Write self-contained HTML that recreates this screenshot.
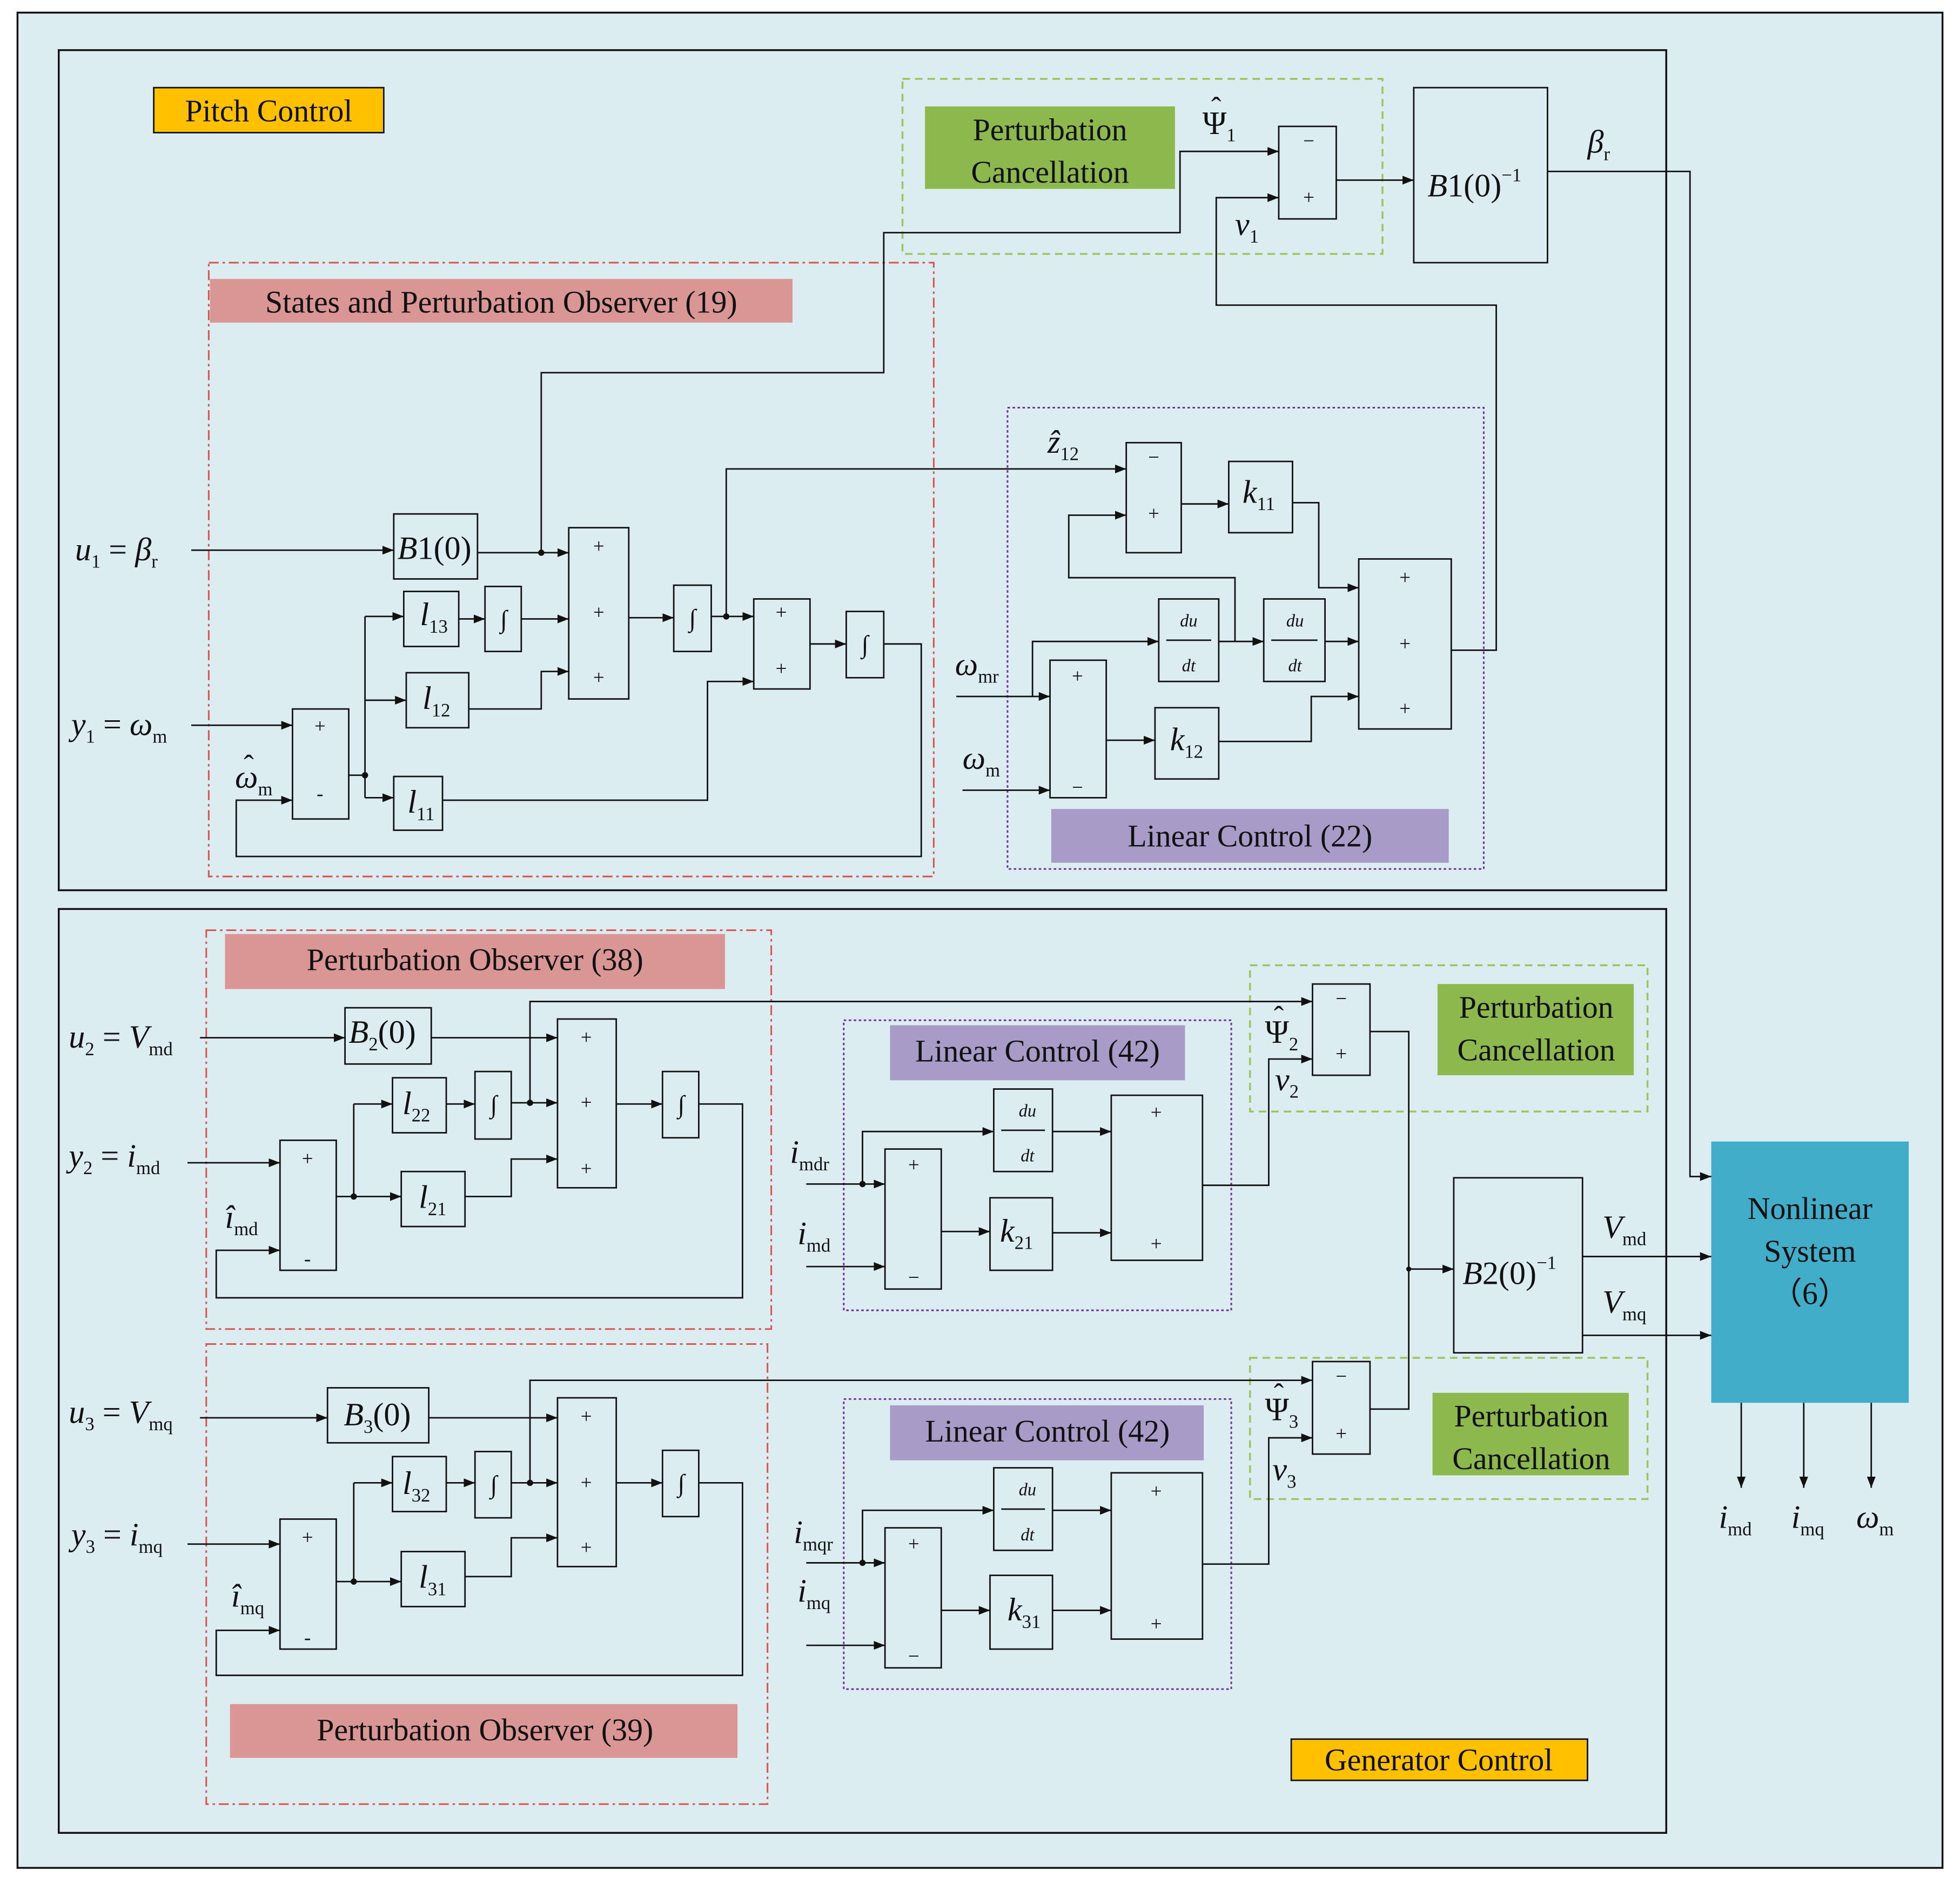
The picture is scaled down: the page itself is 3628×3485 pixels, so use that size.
<!DOCTYPE html>
<html><head><meta charset="utf-8"><style>
html,body{margin:0;padding:0;background:#fff;}
svg{display:block;}
text{font-family:"Liberation Serif",serif;fill:#111;}
.m{font-style:italic;}
</style></head><body>
<svg width="3628" height="3485" viewBox="0 0 1568 1506" xmlns="http://www.w3.org/2000/svg">
<defs>
<marker id="a" markerWidth="10" markerHeight="8" refX="9" refY="4" orient="auto" markerUnits="userSpaceOnUse">
<path d="M0,0.5 L9,4 L0,7.5 Z" fill="#111"/></marker>
</defs>
<rect x="0" y="0" width="1568" height="1506" fill="#fff"/>
<rect x="14" y="10" width="1540" height="1484" fill="#dcedf2" stroke="#111" stroke-width="1.5"/>
<rect x="47" y="40" width="1286" height="672" fill="none" stroke="#111" stroke-width="1.5"/>
<rect x="47" y="727" width="1286" height="739" fill="none" stroke="#111" stroke-width="1.5"/>

<g fill="none" stroke="#111" stroke-width="1.2">
<rect x="1023" y="101" width="46" height="74"/>
<rect x="1131" y="70" width="107" height="140"/>
<rect x="315" y="411" width="67" height="52"/>
<rect x="455" y="422" width="48" height="137"/>
<rect x="234" y="567" width="45" height="88"/>
<rect x="323" y="473" width="44" height="44"/>
<rect x="325" y="538" width="50" height="44"/>
<rect x="315" y="621" width="39" height="43"/>
<rect x="388" y="469" width="29" height="52"/>
<rect x="539" y="468" width="30" height="53"/>
<rect x="603" y="479" width="45" height="72"/>
<rect x="677" y="489" width="30" height="53"/>
<rect x="901" y="354" width="44" height="88"/>
<rect x="983" y="369" width="51" height="57"/>
<rect x="1087" y="447" width="74" height="136"/>
<rect x="840" y="528" width="45" height="110"/>
<rect x="927" y="479" width="48" height="66"/>
<rect x="1011" y="479" width="49" height="66"/>
<rect x="924" y="566" width="51" height="57"/>
<rect x="276" y="806" width="69" height="45"/>
<rect x="446" y="815" width="47" height="135"/>
<rect x="224" y="912" width="45" height="104"/>
<rect x="314" y="862" width="43" height="44"/>
<rect x="321" y="937" width="51" height="44"/>
<rect x="380" y="857" width="29" height="54"/>
<rect x="530" y="857" width="29" height="53"/>
<rect x="708" y="919" width="45" height="112"/>
<rect x="795" y="871" width="47" height="66"/>
<rect x="889" y="876" width="73" height="132"/>
<rect x="792" y="958" width="50" height="58"/>
<rect x="1050" y="787" width="46" height="73"/>
<rect x="1163" y="942" width="103" height="140"/>
<rect x="262" y="1110" width="81" height="44"/>
<rect x="446" y="1118" width="47" height="135"/>
<rect x="224" y="1215" width="45" height="104"/>
<rect x="314" y="1165" width="43" height="44"/>
<rect x="321" y="1241" width="51" height="44"/>
<rect x="380" y="1161" width="29" height="53"/>
<rect x="530" y="1160" width="29" height="53"/>
<rect x="708" y="1222" width="45" height="112"/>
<rect x="795" y="1174" width="47" height="66"/>
<rect x="889" y="1178" width="73" height="133"/>
<rect x="792" y="1260" width="50" height="59"/>
<rect x="1050" y="1089" width="46" height="74"/>
<line x1="933" y1="512" x2="969" y2="512"/><line x1="1017" y1="512" x2="1054" y2="512"/>
<line x1="801" y1="904" x2="836" y2="904"/><line x1="801" y1="1207" x2="836" y2="1207"/>
</g>

<rect x="722" y="63" width="384" height="140" fill="none" stroke="#9bc45a" stroke-width="1.5" stroke-dasharray="6,4"/>
<rect x="1000" y="772" width="318" height="117" fill="none" stroke="#9bc45a" stroke-width="1.5" stroke-dasharray="6,4"/>
<rect x="1000" y="1086" width="318" height="113" fill="none" stroke="#9bc45a" stroke-width="1.5" stroke-dasharray="6,4"/>
<rect x="167" y="210" width="580" height="491" fill="none" stroke="#d9534f" stroke-width="1.3" stroke-dasharray="8,3,2,3"/>
<rect x="165" y="744" width="452" height="319" fill="none" stroke="#d9534f" stroke-width="1.3" stroke-dasharray="8,3,2,3"/>
<rect x="165" y="1075" width="449" height="368" fill="none" stroke="#d9534f" stroke-width="1.3" stroke-dasharray="8,3,2,3"/>
<rect x="806" y="326" width="381" height="369" fill="none" stroke="#7030a0" stroke-width="1.3" stroke-dasharray="2,2"/>
<rect x="675" y="816" width="310" height="232" fill="none" stroke="#7030a0" stroke-width="1.3" stroke-dasharray="2,2"/>
<rect x="675" y="1119" width="310" height="232" fill="none" stroke="#7030a0" stroke-width="1.3" stroke-dasharray="2,2"/>

<rect x="123" y="70" width="184" height="36" fill="#ffc000" stroke="#111" stroke-width="1.2"/>
<rect x="1033" y="1391" width="237" height="33" fill="#ffc000" stroke="#111" stroke-width="1.2"/>
<rect x="740" y="85" width="200" height="66" fill="#8cb84e"/>
<rect x="1150" y="787" width="157" height="73" fill="#8cb84e"/>
<rect x="1146" y="1114" width="157" height="66" fill="#8cb84e"/>
<rect x="168" y="223" width="466" height="35" fill="#d99694"/>
<rect x="180" y="747" width="400" height="44" fill="#d99694"/>
<rect x="184" y="1363" width="406" height="43" fill="#d99694"/>
<rect x="841" y="647" width="318" height="43" fill="#a99bc7"/>
<rect x="712" y="820" width="236" height="44" fill="#a99bc7"/>
<rect x="712" y="1124" width="251" height="44" fill="#a99bc7"/>
<rect x="1369" y="913" width="158" height="209" fill="#42adc9"/>

<g fill="none" stroke="#111" stroke-width="1.2">
<path d="M1069,144 H1131" marker-end="url(#a)"/>
<path d="M1238,137 H1352 V941 H1369" marker-end="url(#a)"/>
<path d="M153,440 H315" marker-end="url(#a)"/>
<path d="M382,442 H455" marker-end="url(#a)"/>
<path d="M433,442 V298 H707 V186 H944 V121 H1023" marker-end="url(#a)"/>
<path d="M1161,520 H1197 V244 H973 V158 H1023" marker-end="url(#a)"/>
<path d="M153,580 H234" marker-end="url(#a)"/>
<path d="M279,620 H292"/>
<path d="M292,493 V638"/>
<path d="M292,493 H323" marker-end="url(#a)"/>
<path d="M292,560 H325" marker-end="url(#a)"/>
<path d="M292,638 H315" marker-end="url(#a)"/>
<path d="M367,495 H388" marker-end="url(#a)"/>
<path d="M417,495 H455" marker-end="url(#a)"/>
<path d="M375,567 H433 V537 H455" marker-end="url(#a)"/>
<path d="M503,494 H539" marker-end="url(#a)"/>
<path d="M569,493 H603" marker-end="url(#a)"/>
<path d="M581,493 V375 H901" marker-end="url(#a)"/>
<path d="M354,640 H566 V545 H603" marker-end="url(#a)"/>
<path d="M648,515 H677" marker-end="url(#a)"/>
<path d="M707,515 H737 V685 H189 V640 H234" marker-end="url(#a)"/>
<path d="M988,513 V462 H855 V412 H901" marker-end="url(#a)"/>
<path d="M945,403 H983" marker-end="url(#a)"/>
<path d="M1034,402 H1055 V470 H1087" marker-end="url(#a)"/>
<path d="M765,557 H840" marker-end="url(#a)"/>
<path d="M770,632 H840" marker-end="url(#a)"/>
<path d="M826,557 V513 H927" marker-end="url(#a)"/>
<path d="M975,513 H1011" marker-end="url(#a)"/>
<path d="M1060,513 H1087" marker-end="url(#a)"/>
<path d="M885,592 H924" marker-end="url(#a)"/>
<path d="M975,593 H1049 V557 H1087" marker-end="url(#a)"/>
<path d="M160,830 H276" marker-end="url(#a)"/>
<path d="M345,830 H446" marker-end="url(#a)"/>
<path d="M150,930 H224" marker-end="url(#a)"/>
<path d="M269,957 H321" marker-end="url(#a)"/>
<path d="M283,883 V957"/>
<path d="M283,883 H314" marker-end="url(#a)"/>
<path d="M357,883 H380" marker-end="url(#a)"/>
<path d="M409,882 H446" marker-end="url(#a)"/>
<path d="M424,882 V801 H1050" marker-end="url(#a)"/>
<path d="M372,957 H409 V927 H446" marker-end="url(#a)"/>
<path d="M493,883 H530" marker-end="url(#a)"/>
<path d="M559,883 H594 V1038 H173 V1000 H224" marker-end="url(#a)"/>
<path d="M645,947 H708" marker-end="url(#a)"/>
<path d="M690,947 V905 H795" marker-end="url(#a)"/>
<path d="M842,905 H889" marker-end="url(#a)"/>
<path d="M645,1013 H708" marker-end="url(#a)"/>
<path d="M753,985 H792" marker-end="url(#a)"/>
<path d="M842,986 H889" marker-end="url(#a)"/>
<path d="M962,948 H1015 V847 H1050" marker-end="url(#a)"/>
<path d="M1096,825 H1127 V1127 H1096"/>
<path d="M1127,1015 H1163" marker-end="url(#a)"/>
<path d="M1266,1005 H1369" marker-end="url(#a)"/>
<path d="M1266,1068 H1369" marker-end="url(#a)"/>
<path d="M1393,1122 V1190" marker-end="url(#a)"/>
<path d="M1443,1122 V1190" marker-end="url(#a)"/>
<path d="M1497,1122 V1190" marker-end="url(#a)"/>
<path d="M160,1134 H262" marker-end="url(#a)"/>
<path d="M343,1134 H446" marker-end="url(#a)"/>
<path d="M150,1235 H224" marker-end="url(#a)"/>
<path d="M269,1265 H321" marker-end="url(#a)"/>
<path d="M283,1186 V1265"/>
<path d="M283,1186 H314" marker-end="url(#a)"/>
<path d="M357,1186 H380" marker-end="url(#a)"/>
<path d="M409,1186 H446" marker-end="url(#a)"/>
<path d="M424,1186 V1104 H1050" marker-end="url(#a)"/>
<path d="M372,1261 H409 V1230 H446" marker-end="url(#a)"/>
<path d="M493,1186 H530" marker-end="url(#a)"/>
<path d="M559,1186 H594 V1340 H173 V1304 H224" marker-end="url(#a)"/>
<path d="M645,1250 H708" marker-end="url(#a)"/>
<path d="M690,1250 V1208 H795" marker-end="url(#a)"/>
<path d="M842,1208 H889" marker-end="url(#a)"/>
<path d="M645,1316 H708" marker-end="url(#a)"/>
<path d="M753,1288 H792" marker-end="url(#a)"/>
<path d="M842,1288 H889" marker-end="url(#a)"/>
<path d="M962,1251 H1015 V1150 H1050" marker-end="url(#a)"/>
</g>
<g fill="#111">
<circle cx="433" cy="442" r="2.5"/><circle cx="292" cy="620" r="2.5"/><circle cx="581" cy="493" r="2.5"/>
<circle cx="283" cy="957" r="2.5"/><circle cx="424" cy="882" r="2.5"/><circle cx="690" cy="947" r="2.5"/>
<circle cx="283" cy="1265" r="2.5"/><circle cx="424" cy="1186" r="2.5"/><circle cx="690" cy="1250" r="2.5"/>
<circle cx="1127" cy="1015" r="2"/>
</g>

<g font-size="16" text-anchor="middle">
<text x="1047" y="118">−</text><text x="1047" y="163">+</text>
<text x="479" y="442">+</text><text x="479" y="495">+</text><text x="479" y="547">+</text>
<text x="256" y="586">+</text><text x="256" y="640">-</text>
<text x="625" y="495">+</text><text x="625" y="540">+</text>
<text x="923" y="371">−</text><text x="923" y="416">+</text>
<text x="1124" y="467">+</text><text x="1124" y="520">+</text><text x="1124" y="572">+</text>
<text x="862" y="546">+</text><text x="862" y="635">−</text>
<text x="469" y="835">+</text><text x="469" y="887">+</text><text x="469" y="940">+</text>
<text x="246" y="932">+</text><text x="246" y="1012">-</text>
<text x="731" y="937">+</text><text x="731" y="1027">−</text>
<text x="925" y="895">+</text><text x="925" y="1000">+</text>
<text x="1073" y="804">−</text><text x="1073" y="848">+</text>
<text x="469" y="1138">+</text><text x="469" y="1191">+</text><text x="469" y="1243">+</text>
<text x="246" y="1235">+</text><text x="246" y="1315">-</text>
<text x="731" y="1240">+</text><text x="731" y="1330">−</text>
<text x="925" y="1198">+</text><text x="925" y="1304">+</text>
<text x="1073" y="1106">−</text><text x="1073" y="1152">+</text>
</g>
<g font-size="20" text-anchor="middle">
<text x="403" y="502">∫</text><text x="554" y="501">∫</text><text x="692" y="522">∫</text>
<text x="395" y="890">∫</text><text x="545" y="890">∫</text>
<text x="395" y="1194">∫</text><text x="545" y="1193">∫</text>
</g>
<g font-size="14" text-anchor="middle" font-style="italic">
<text x="951" y="501">du</text><text x="951" y="537">dt</text>
<text x="1036" y="501">du</text><text x="1036" y="537">dt</text>
<text x="822" y="893">du</text><text x="822" y="929">dt</text>
<text x="822" y="1196">du</text><text x="822" y="1232">dt</text>
</g>

<g font-size="25" text-anchor="middle">
<text x="215" y="97">Pitch Control</text>
<text x="1151" y="1416">Generator  Control</text>
<text x="840" y="112">Perturbation</text><text x="840" y="146">Cancellation</text>
<text x="1229" y="814">Perturbation</text><text x="1229" y="848">Cancellation</text>
<text x="1225" y="1141">Perturbation</text><text x="1225" y="1175">Cancellation</text>
<text x="401" y="250">States and Perturbation Observer  (19)</text>
<text x="380" y="776">Perturbation Observer  (38)</text>
<text x="388" y="1392">Perturbation Observer  (39)</text>
<text x="1000" y="677">Linear Control (22)</text>
<text x="830" y="849">Linear Control (42)</text>
<text x="838" y="1153">Linear Control (42)</text>
<text x="1448" y="975" fill="#1a2a3a">Nonlinear</text>
<text x="1448" y="1009" fill="#1a2a3a">System</text>
<text x="1448" y="1043" fill="#1a2a3a">（6）</text>
</g>

<!-- hats -->
<g font-size="24" text-anchor="middle">
<text x="973" y="94">ˆ</text>
<text x="1023" y="821">ˆ</text>
<text x="1023" y="1123">ˆ</text>
<text x="199" y="620">ˆ</text>
</g>

<g font-size="26">
<text x="1142" y="157"><tspan class="m">B</tspan>1(0)<tspan font-size="15" dy="-12">−1</tspan></text>
<text x="1170" y="1027"><tspan class="m">B</tspan>2(0)<tspan font-size="15" dy="-12">−1</tspan></text>
<text x="318" y="447"><tspan class="m">B</tspan>1(0)</text>
<text x="279" y="834"><tspan class="m">B</tspan><tspan font-size="15" dy="6">2</tspan><tspan dy="-6">(0)</tspan></text>
<text x="275" y="1140"><tspan class="m">B</tspan><tspan font-size="15" dy="6">3</tspan><tspan dy="-6">(0)</tspan></text>
<text x="962" y="107"><tspan>Ψ</tspan><tspan font-size="15" dy="6">1</tspan></text>
<text x="1012" y="834"><tspan>Ψ</tspan><tspan font-size="15" dy="6">2</tspan></text>
<text x="1012" y="1136"><tspan>Ψ</tspan><tspan font-size="15" dy="6">3</tspan></text>
<text x="988" y="188"><tspan class="m">ν</tspan><tspan font-size="15" dy="6">1</tspan></text>
<text x="1020" y="872"><tspan class="m">ν</tspan><tspan font-size="15" dy="6">2</tspan></text>
<text x="1018" y="1184"><tspan class="m">ν</tspan><tspan font-size="15" dy="6">3</tspan></text>
<text x="1270" y="122"><tspan class="m">β</tspan><tspan font-size="15" dy="6">r</tspan></text>
<text x="838" y="362"><tspan class="m">ẑ</tspan><tspan font-size="15" dy="6">12</tspan></text>
<text x="60" y="448"><tspan class="m">u</tspan><tspan font-size="15" dy="6">1</tspan><tspan dy="-6"> = </tspan><tspan class="m">β</tspan><tspan font-size="15" dy="6">r</tspan></text>
<text x="57" y="588"><tspan class="m">y</tspan><tspan font-size="15" dy="6">1</tspan><tspan dy="-6"> = </tspan><tspan class="m">ω</tspan><tspan font-size="15" dy="6">m</tspan></text>
<text x="188" y="630"><tspan class="m">ω</tspan><tspan font-size="15" dy="6">m</tspan></text>
<text x="336" y="500"><tspan class="m">l</tspan><tspan font-size="15" dy="6">13</tspan></text>
<text x="338" y="567"><tspan class="m">l</tspan><tspan font-size="15" dy="6">12</tspan></text>
<text x="326" y="650"><tspan class="m">l</tspan><tspan font-size="15" dy="6">11</tspan></text>
<text x="994" y="402"><tspan class="m">k</tspan><tspan font-size="15" dy="6">11</tspan></text>
<text x="936" y="600"><tspan class="m">k</tspan><tspan font-size="15" dy="6">12</tspan></text>
<text x="764" y="540"><tspan class="m">ω</tspan><tspan font-size="15" dy="6">mr</tspan></text>
<text x="770" y="615"><tspan class="m">ω</tspan><tspan font-size="15" dy="6">m</tspan></text>
<text x="55" y="838"><tspan class="m">u</tspan><tspan font-size="15" dy="6">2</tspan><tspan dy="-6"> = </tspan><tspan class="m">V</tspan><tspan font-size="15" dy="6">md</tspan></text>
<text x="55" y="933"><tspan class="m">y</tspan><tspan font-size="15" dy="6">2</tspan><tspan dy="-6"> = </tspan><tspan class="m">i</tspan><tspan font-size="15" dy="6">md</tspan></text>
<text x="180" y="982"><tspan class="m">î</tspan><tspan font-size="15" dy="6">md</tspan></text>
<text x="322" y="891"><tspan class="m">l</tspan><tspan font-size="15" dy="6">22</tspan></text>
<text x="335" y="966"><tspan class="m">l</tspan><tspan font-size="15" dy="6">21</tspan></text>
<text x="632" y="930"><tspan class="m">i</tspan><tspan font-size="15" dy="6">mdr</tspan></text>
<text x="638" y="995"><tspan class="m">i</tspan><tspan font-size="15" dy="6">md</tspan></text>
<text x="800" y="993"><tspan class="m">k</tspan><tspan font-size="15" dy="6">21</tspan></text>
<text x="1282" y="990"><tspan class="m">V</tspan><tspan font-size="15" dy="6">md</tspan></text>
<text x="1282" y="1050"><tspan class="m">V</tspan><tspan font-size="15" dy="6">mq</tspan></text>
<text x="55" y="1138"><tspan class="m">u</tspan><tspan font-size="15" dy="6">3</tspan><tspan dy="-6"> = </tspan><tspan class="m">V</tspan><tspan font-size="15" dy="6">mq</tspan></text>
<text x="57" y="1236"><tspan class="m">y</tspan><tspan font-size="15" dy="6">3</tspan><tspan dy="-6"> = </tspan><tspan class="m">i</tspan><tspan font-size="15" dy="6">mq</tspan></text>
<text x="185" y="1285"><tspan class="m">î</tspan><tspan font-size="15" dy="6">mq</tspan></text>
<text x="322" y="1195"><tspan class="m">l</tspan><tspan font-size="15" dy="6">32</tspan></text>
<text x="335" y="1270"><tspan class="m">l</tspan><tspan font-size="15" dy="6">31</tspan></text>
<text x="635" y="1234"><tspan class="m">i</tspan><tspan font-size="15" dy="6">mqr</tspan></text>
<text x="638" y="1281"><tspan class="m">i</tspan><tspan font-size="15" dy="6">mq</tspan></text>
<text x="806" y="1296"><tspan class="m">k</tspan><tspan font-size="15" dy="6">31</tspan></text>
<text x="1375" y="1222"><tspan class="m">i</tspan><tspan font-size="15" dy="6">md</tspan></text>
<text x="1433" y="1222"><tspan class="m">i</tspan><tspan font-size="15" dy="6">mq</tspan></text>
<text x="1485" y="1222"><tspan class="m">ω</tspan><tspan font-size="15" dy="6">m</tspan></text>
</g>
</svg>
</body></html>
